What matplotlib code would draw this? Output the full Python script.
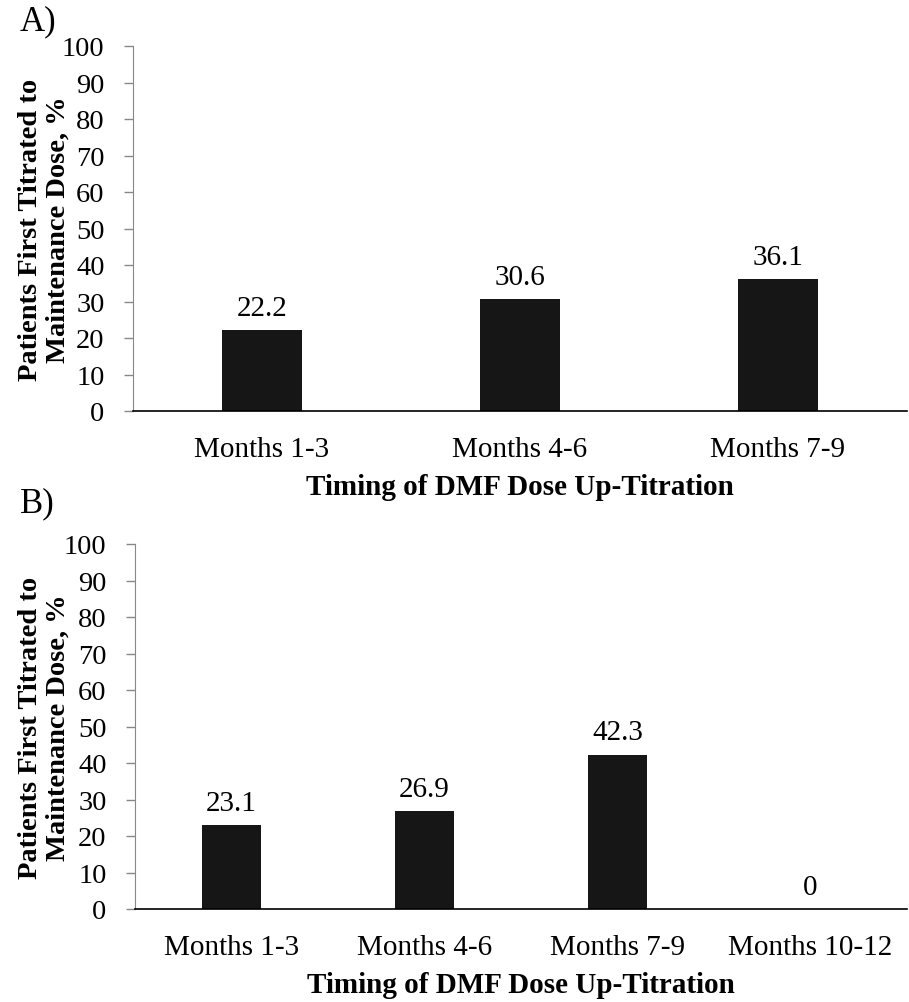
import matplotlib
matplotlib.use('Agg')
from matplotlib import pyplot as plt

# 数据
cats_a = ['Months 1-3', 'Months 4-6', 'Months 7-9']
vals_a = [22.2, 30.6, 36.1]
cats_b = ['Months 1-3', 'Months 4-6', 'Months 7-9', 'Months 10-12']
vals_b = [23.1, 26.9, 42.3, 0]
yticks = list(range(0, 101, 10))

plt.rcParams['font.family'] = ['Liberation Serif', 'DejaVu Serif']

W, H = 909, 1003
fig = plt.figure(figsize=(W / 100, H / 100), dpi=100)


def draw(ax, cats, vals, width, left_px):
    x = range(len(cats))
    ax.bar(x, vals, width=width, color='#161616')
    for xi, v in zip(x, vals):
        ax.text(xi, v + 2.5, f'{v:g}', ha='center', va='bottom', fontsize=21)
    ax.set_xlim(-0.5, len(cats) - 0.5)
    ax.set_ylim(0, 100)
    ax.set_yticks(yticks)
    ax.set_xticks(list(x))
    ax.set_xticklabels(cats, fontsize=21)
    ax.tick_params(axis='y', labelsize=20.5, length=6.5, width=1, color='#888888', pad=14)
    ax.tick_params(axis='x', length=0, pad=18)
    for s in ['top', 'right']:
        ax.spines[s].set_visible(False)
    ax.spines['left'].set_color('#888888')
    ax.spines['bottom'].set_color('black')
    ax.spines['bottom'].set_linewidth(1.2)
    ax.set_ylabel('Patients First Titrated to\nMaintenance Dose, %', fontsize=20.5,
                  fontweight='bold', linespacing=1.15)
    # y 轴标题位置（右边缘约在 x=71px）
    ax.yaxis.set_label_coords((71 - left_px) / (907 - left_px), 0.5)
    ax.set_xlabel('Timing of DMF Dose Up-Titration', fontsize=21,
                  fontweight='bold', labelpad=8)


ax1 = fig.add_axes([133 / W, 1 - 412 / H, (907 - 133) / W, 365 / H])
draw(ax1, cats_a, vals_a, 0.31, 133)
ax2 = fig.add_axes([135 / W, 1 - 910 / H, (907 - 135) / W, 365 / H])
draw(ax2, cats_b, vals_b, 0.31, 135)

fig.text(20 / W, 1 - 22 / H, 'A)', fontsize=25, va='center', ha='left')
fig.text(20 / W, 1 - 504 / H, 'B)', fontsize=25, va='center', ha='left')

fig.savefig('out.png', dpi=100)
